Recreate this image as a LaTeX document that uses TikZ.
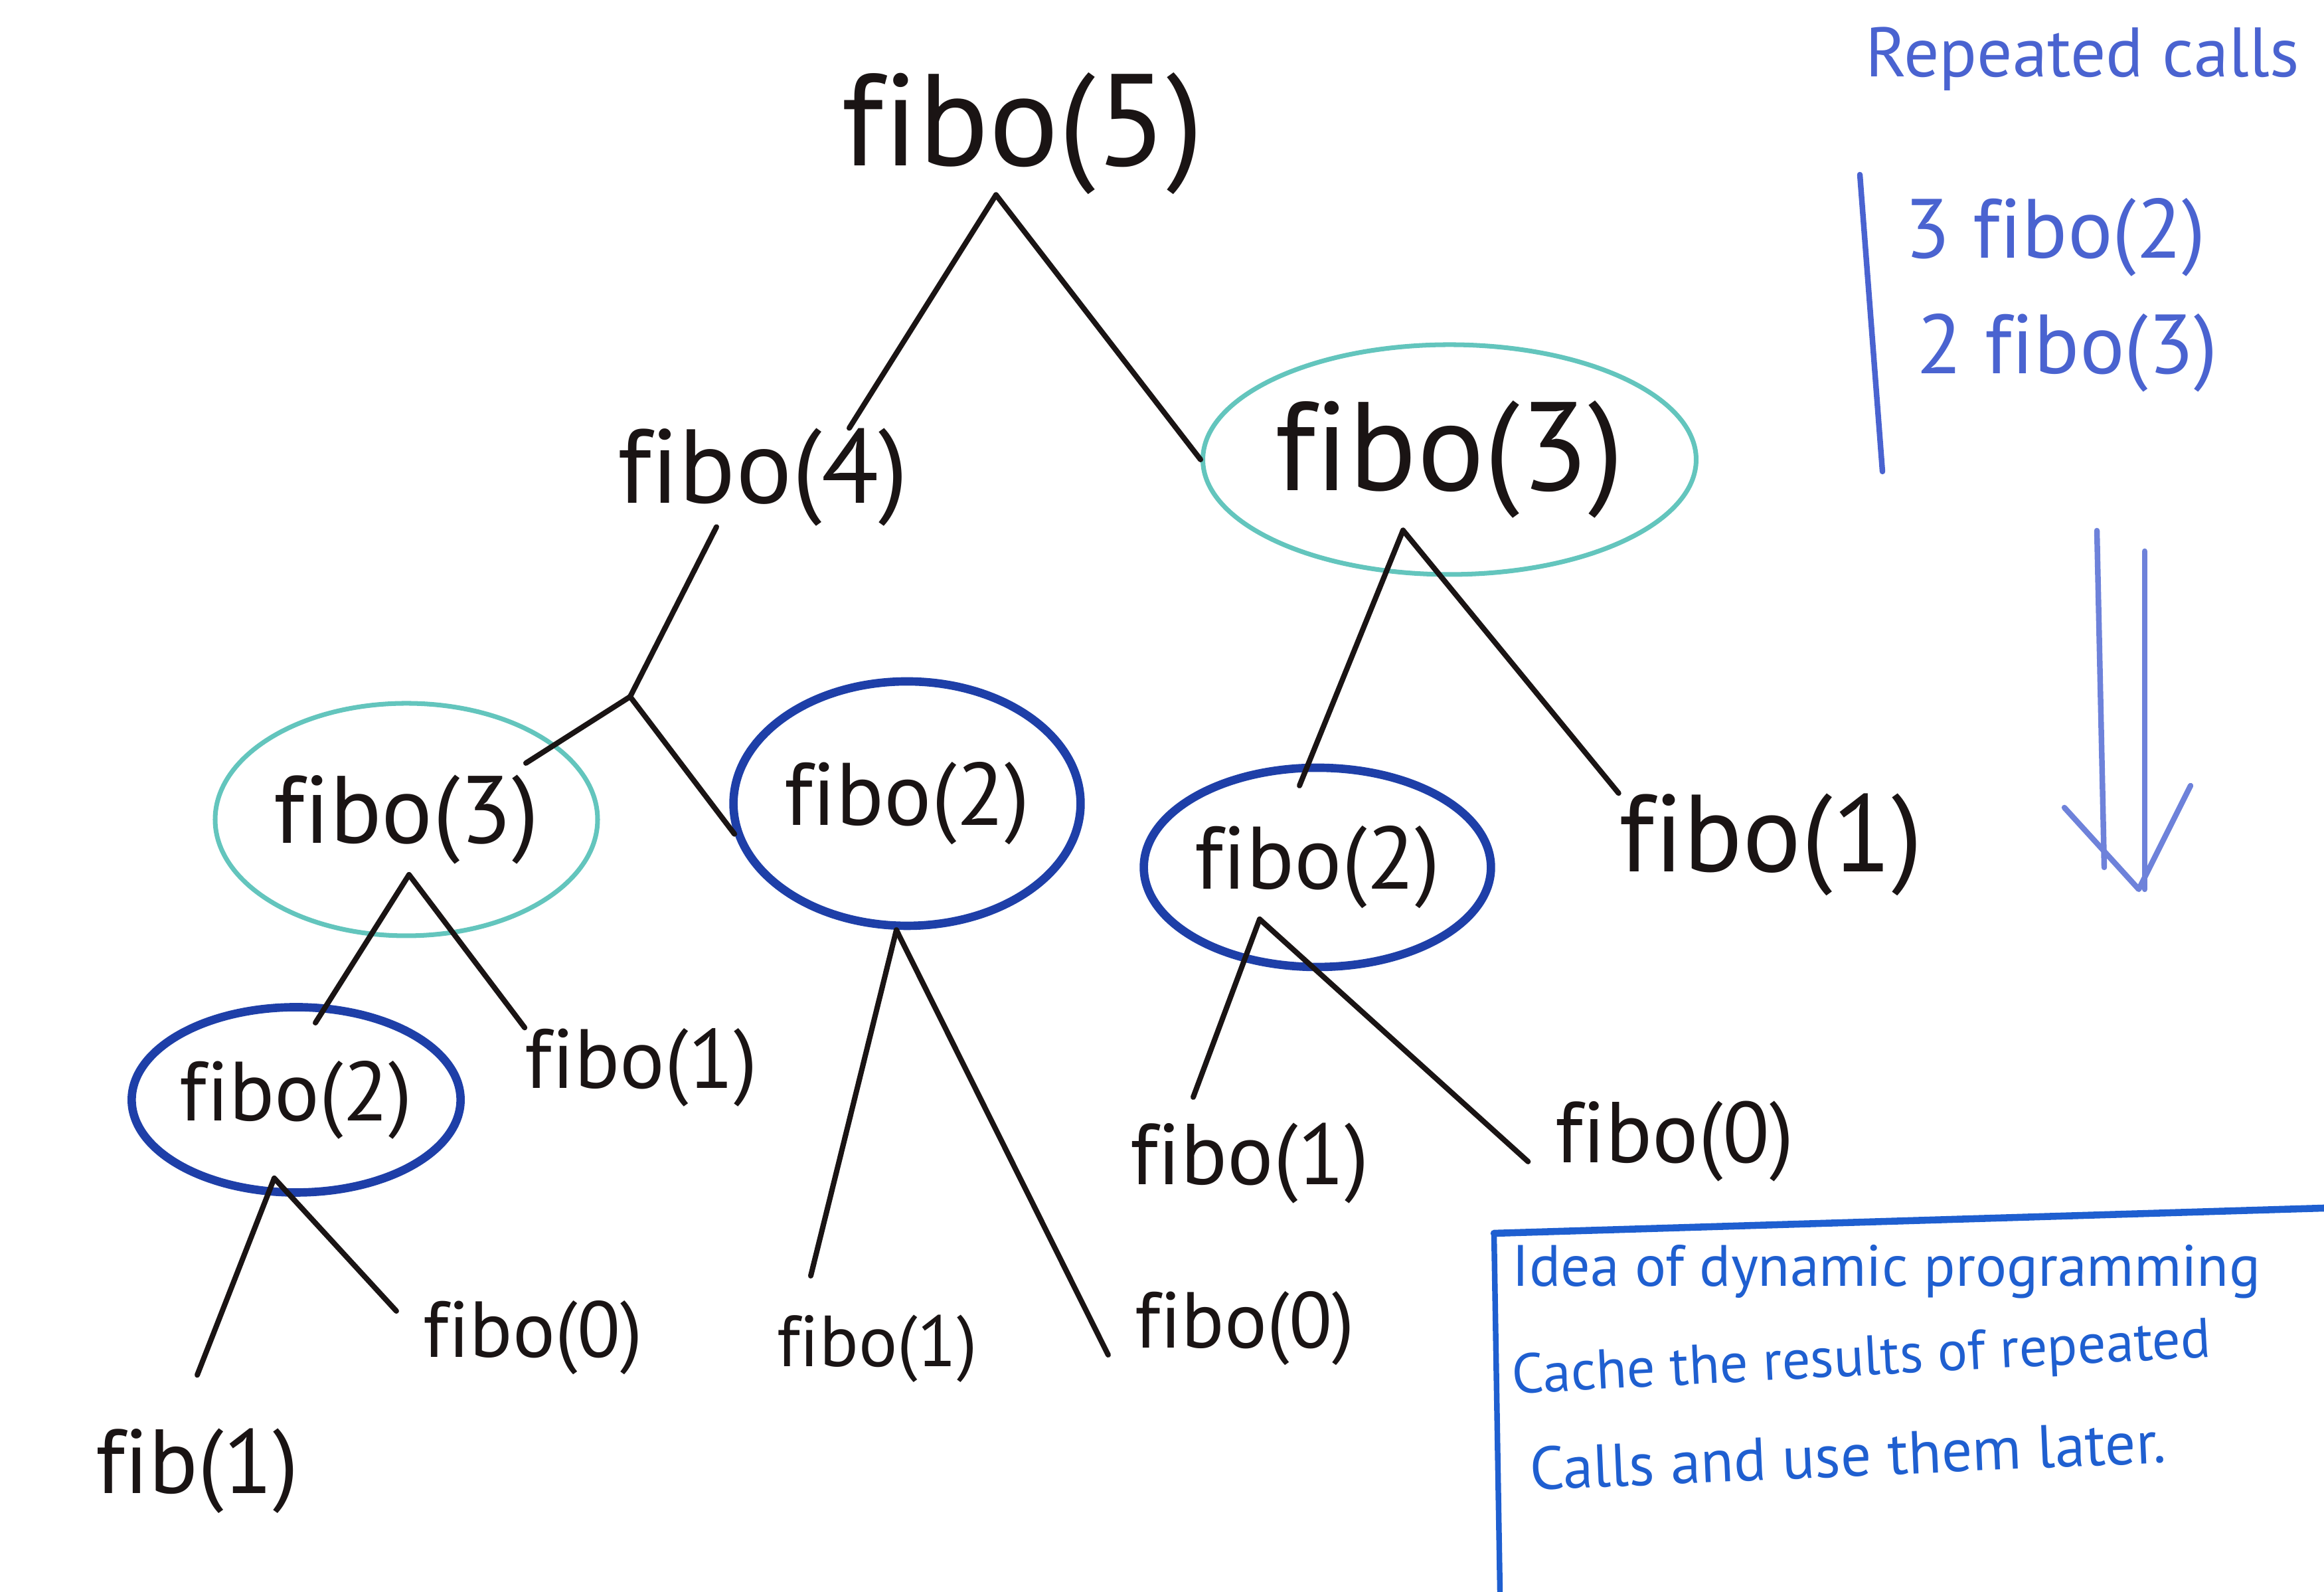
\documentclass[tikz,border=0pt]{standalone}
\usepackage{fontspec}
\setmainfont{PT Sans}[Ligatures = NoCommon]
\usetikzlibrary{shapes.geometric}

\definecolor{ink}{HTML}{1A1414}
\definecolor{circteal}{HTML}{63C5BD}
\definecolor{circblue}{HTML}{1E3FA8}
\definecolor{penblue}{HTML}{1F5FD0}
\definecolor{notesblue}{HTML}{4A63D0}

\begin{document}
\begin{tikzpicture}[
  call/.style = {inner sep = 0pt, text = ink, font = \fontsize{#1}{#1}\selectfont},
  call/.default = 40,
  seen/.style = {ellipse, draw = #1, inner sep = 0pt},
  edge/.style = {line width = 2.3pt, line cap = round, ink},
  note/.style = {inner sep = 0pt, text = #1, font = \fontsize{30}{30}\selectfont},
]
\useasboundingbox (0, 0) rectangle (35, 23.97);

% the call tree
\node[call = 56] (f5) at (15.4, 21.96) {fibo(5)};
\node[call = 45] (f4) at (11.49, 16.78) {fibo(4)};
\node[call = 54, seen = circteal, line width = 2pt, minimum width = 6.74cm, minimum height = 3.46cm] (f3R) at (21.83, 17.05) {fibo(3)};
\coordinate (fork) at (9.49, 13.48);
\node[call = 41, seen = circteal, line width = 2pt, minimum width = 5.76cm, minimum height = 3.5cm] (f3L) at (6.12, 11.63) {fibo(3)};
\node[call = 38, seen = circblue, line width = 3.6pt, minimum width = 4.71cm, minimum height = 3.68cm] (f2M) at (13.66, 11.87) {fibo(2)};
\node[call = 38, seen = circblue, line width = 3.6pt, minimum width = 4.6cm, minimum height = 3.0cm] (f2R) at (19.84, 10.91) {fibo(2)};
\node[call = 47] (f1R) at (26.67, 11.25) {fibo(1)};
\node[call = 36, seen = circblue, line width = 3.6pt, minimum width = 4.35cm, minimum height = 2.79cm] (f2L) at (4.46, 7.41) {fibo(2)};
\node[call = 36] (f1L) at (9.66, 7.9) {fibo(1)};
\node[call = 37] (f1RR) at (18.82, 6.45) {fibo(1)};
\node[call = 37] (f0RR) at (25.22, 6.78) {fibo(0)};
\node[call = 39] (fib1) at (2.97, 1.82) {fib(1)};
\node[call = 34] (f0L) at (8.03, 3.83) {fibo(0)};
\node[call = 31] (f1M) at (13.21, 3.66) {fibo(1)};
\node[call = 34] (f0M) at (18.75, 3.97) {fibo(0)};

\draw[edge] ([xshift = -4mm]f5.south) -- ([xshift = 13mm]f4.north);
\draw[edge] ([xshift = -4mm]f5.south) -- (f3R.west);
\draw[edge] ([xshift = -7mm]f4.south) -- (fork);
\draw[edge] (fork) -- ([shift = {(1.8, 0.85)}]f3L.center);
\draw[edge] (fork) -- (f2M.190);
\draw[edge] ([xshift = -7mm, yshift = 7mm]f3R.south) -- ([shift = {(-0.27, 1.23)}]f2R.center);
\draw[edge] ([xshift = -7mm, yshift = 7mm]f3R.south) -- (f1R.north west);
\draw[edge] ([shift = {(0.04, -0.83)}]f3L.center) -- ([shift = {(0.29, 1.16)}]f2L.center);
\draw[edge] ([shift = {(0.04, -0.83)}]f3L.center) -- (f1L.north west);
\draw[edge] ([xshift = -1.6mm]f2M.south) -- ([shift = {(-1.0, 1.1)}]f1M.center);
\draw[edge] ([xshift = -1.6mm]f2M.south) -- ([xshift = -4mm, yshift = -4mm]f0M.west);
\draw[edge] ([shift = {(-0.87, -0.78)}]f2R.center) -- ([shift = {(-0.85, 1.0)}]f1RR.center);
\draw[edge] ([shift = {(-0.87, -0.78)}]f2R.center) -- ([xshift = -4mm, yshift = -3mm]f0RR.west);
\draw[edge] ([shift = {(-0.33, -1.18)}]f2L.center) -- ([yshift = 8mm]fib1.north);
\draw[edge] ([shift = {(-0.33, -1.18)}]f2L.center) -- ([xshift = -4mm, yshift = 4mm]f0L.west);

% repeated calls
\node[note = notesblue] (rep) at (31.36, 23.08) {Repeated calls};
\node[note = notesblue, anchor = west, font = \fontsize{36}{36}\selectfont] (cnt2) at (28.68, 20.40) {3 fibo(2)};
\node[note = notesblue, anchor = west, font = \fontsize{36}{36}\selectfont] (cnt3) at (28.86, 18.66) {2 fibo(3)};
\draw[notesblue, line width = 2.4pt, line cap = round] (28.01, 21.34) -- (28.35, 16.87);

% double arrow
\draw[notesblue!80, line width = 2.4pt, line cap = round] (31.58, 15.98) -- (31.69, 10.91);
\draw[notesblue!80, line width = 2.4pt, line cap = round] (32.30, 15.67) -- (32.30, 10.58);
\draw[notesblue!80, line width = 2.4pt, line cap = round, line join = round] (31.09, 11.81) -- (32.21, 10.58) -- (32.99, 12.14);

% idea box
\draw[penblue, line width = 3pt, line cap = round] (22.5, 5.4) -- (35, 5.78);
\draw[penblue, line width = 2.4pt] (22.5, 5.4) -- (22.59, 0);
\node[note = penblue, anchor = west, font = \fontsize{25}{25}\selectfont] (idea) at (22.77, 4.82) {Idea of dynamic programming};
\node[note = penblue, anchor = west, rotate = 3, font = \fontsize{24}{24}\selectfont] (cache) at (22.77, 3.2) {Cache the results of repeated};
\node[note = penblue, anchor = west, rotate = 2.5, font = \fontsize{26}{26}\selectfont] (later) at (23.03, 1.85) {Calls and use them later.};
\end{tikzpicture}
\end{document}
